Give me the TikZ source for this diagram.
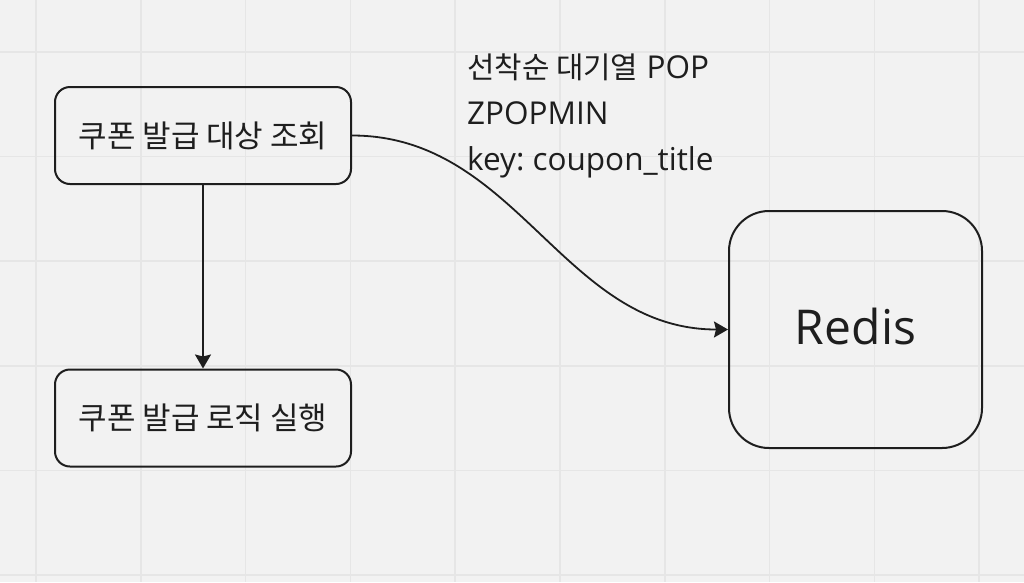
\documentclass[tikz,border=0pt]{standalone}
\usepackage{fontspec}
\setmainfont{Open Sans}
\newfontfamily\krfont{Noto Sans CJK KR}
\usetikzlibrary{arrows.meta}
\definecolor{canvas}{HTML}{F2F2F2}
\definecolor{gridline}{HTML}{E6E6E6}
\definecolor{ink}{HTML}{1E1E1E}
\frenchspacing
\tikzset{
  stepbox/.style={draw=ink, line width=2pt, rounded corners=15pt, text=ink,
    minimum width=296pt, minimum height=97pt, inner sep=0pt,
    font=\krfont\fontsize{31}{37}\selectfont},
  storebox/.style={draw=ink, line width=2pt, rounded corners=40pt, text=ink,
    minimum width=253pt, minimum height=237pt, inner sep=0pt,
    font=\fontsize{48}{56}\selectfont},
  flow/.style={draw=ink, line width=1.8pt,
    -{Stealth[length=14pt, width=16pt, inset=2pt]}}
}
\begin{document}
\begin{tikzpicture}[x=1pt, y=-1pt]
  % canvas and grid
  \fill[canvas] (0,0) rectangle (1024,582);
  \useasboundingbox (0,0) rectangle (1024,582);
  \foreach \gx in {0,...,9}
    \draw[gridline, line width=1.5pt] ({36+104.8*\gx},0) -- ({36+104.8*\gx},582);
  \foreach \gy in {0,...,5}
    \draw[gridline, line width=1.5pt] (0,{52+104.6*\gy}) -- (1024,{52+104.6*\gy});

  \node[stepbox] (query) at (203,135.5) {쿠폰 발급 대상 조회};
  \node[stepbox] (issue) at (203,418) {쿠폰 발급 로직 실행};
  \node[storebox] (redis) at (855.5,329.5) {\raisebox{6pt}{Redis}};

  % base anchor sits on the last line
  \node[anchor=base west, align=left, inner sep=0pt, text=ink,
        font=\fontsize{31.5}{46}\selectfont] (popnote) at (467,170)
    {{\krfont\fontsize{29.8}{46}\selectfont 선착순 대기열} POP\\ZPOPMIN\\key: coupon\_title};

  \draw[flow] (query) -- (issue);
  \draw[flow] (query.east) to[out=0, in=180] (redis.west);
\end{tikzpicture}
\end{document}
